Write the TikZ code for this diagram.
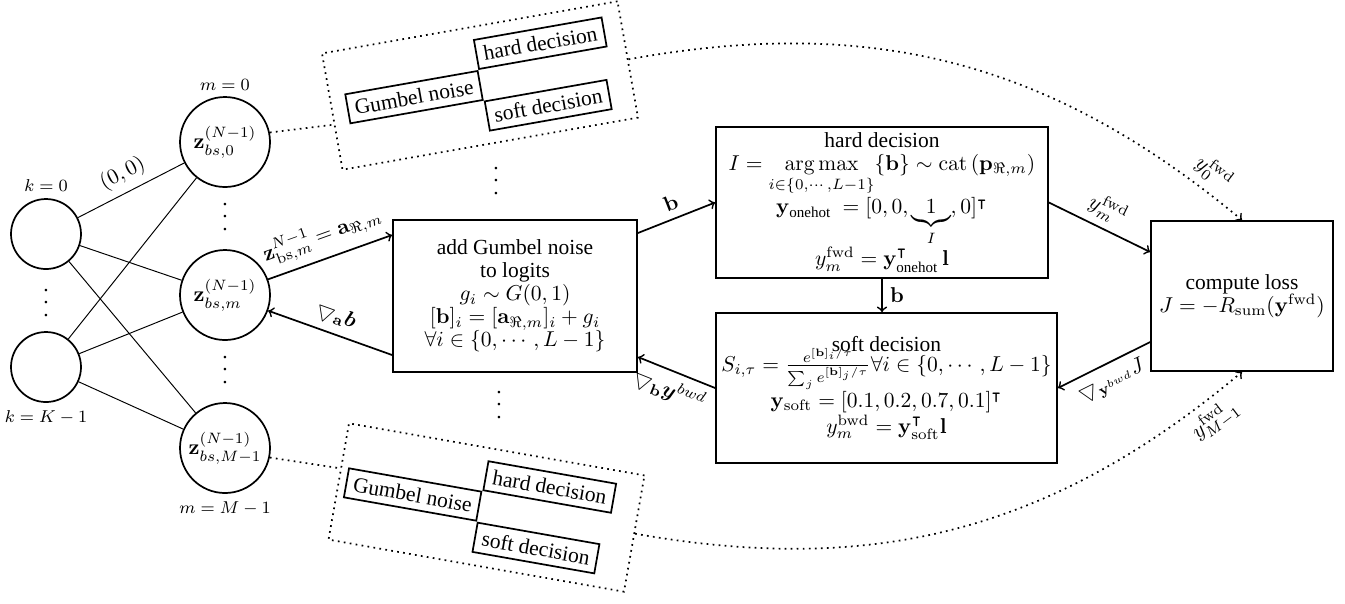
\documentclass[tikz,border=0pt]{standalone}
\usepackage{amsmath,amssymb}
\usepackage[no-math]{fontspec}
\setmainfont{Liberation Serif}
\usetikzlibrary{calc}
\newcommand{\myvdots}{\vbox{\baselineskip6pt\lineskiplimit0pt\hbox{.}\hbox{.}\hbox{.}}}
\begin{document}
\begin{tikzpicture}[x=0.465pt,y=-0.465pt,
  box/.style={draw, thick, align=center, font=\fontsize{10}{10.7}\selectfont, inner sep=0pt},
  circ/.style={draw, thick, circle, minimum size=41.85pt, inner sep=0pt},
  kcirc/.style={draw, thick, circle, minimum size=32.55pt, inner sep=0pt},
  arr/.style={thick, ->},
  link/.style={line width=0.45pt},
  dots/.style={thick, dotted},
  sbox/.style={draw, thick, transform shape},
  grpframe/.style={draw, thick, dotted, transform shape, minimum width=139.5pt, minimum height=54.9pt},
  lbl/.style={font=\footnotesize}]
\useasboundingbox (0,0) rectangle (1345,603);

% left circles
\node[kcirc] (k0) at (46,234) {};
\node[kcirc] (kK) at (46,367) {};
\node[lbl] (lk0) at (46,186) {$k=0$};
\node[lbl] (lkK) at (46,417) {$k=K-1$};
\node (dk) at (46,303) {\myvdots};

% m circles
\node[circ] (m0) at (225,142) {$\mathbf{z}_{bs,0}^{(N-1)}$};
\node[circ] (mm) at (225,295) {$\mathbf{z}_{bs,m}^{(N-1)}$};
\node[circ] (mM) at (225,448) {$\mathbf{z}_{bs,M-1}^{(N-1)}$};
\node[lbl] (lm0) at (225,85) {$m=0$};
\node[lbl] (lmM) at (225,508) {$m=M-1$};
\node (dm1) at (225,217) {\myvdots};
\node (dm2) at (225,370) {\myvdots};

% links
\draw[link] (k0) -- node[above, sloped, pos=0.5] {$(0,0)$} (m0);
\draw[link] (k0) -- (mm);
\draw[link] (k0) -- (mM);
\draw[link] (kK) -- (m0);
\draw[link] (kK) -- (mm);
\draw[link] (kK) -- (mM);

% main boxes
\node[box, minimum width=113.5pt, minimum height=70.7pt] (gum) at (515,296)
  {add Gumbel noise\\ to logits\\ $g_i\sim G(0,1)$\\ $[\mathbf{b}]_i=[\mathbf{a}_{\Re,m}]_i+g_i$\\ $\forall i\in\{0,\cdots,L-1\}$};
\node[box, minimum width=154.4pt, minimum height=70.2pt] (hard) at (882,202.5)
  {hard decision\\ $I=\mathop{\mathrm{arg\,max}}\limits_{i\in\{0,\cdots,L-1\}}\{\mathbf{b}\}\sim\mathrm{cat}\left(\mathbf{p}_{\Re,m}\right)$\\
   $\mathbf{y}_{\text{onehot}}\ =[0,0,\underbrace{\;\;1\;\;}_{I},0]^{\intercal}$\\ $y_m^{\mathrm{fwd}}=\mathbf{y}_{\text{onehot}}^{\intercal}\,\mathbf{l}$};
\node[box, minimum width=158.6pt, minimum height=69.8pt] (soft) at (886.5,388)
  {soft decision\\[-2.5pt] $S_{i,\tau}=\frac{e^{[\mathbf{b}]_i/\tau}}{\sum_j e^{[\mathbf{b}]_j/\tau}}\forall i\in\{0,\cdots,L-1\}$\\
   $\mathbf{y}_{\mathrm{soft}}=[0.1,0.2,0.7,0.1]^{\intercal}$\\ $y_m^{\mathrm{bwd}}=\mathbf{y}_{\mathrm{soft}}^{\intercal}\mathbf{l}$};
\node[box, minimum width=84.6pt, minimum height=69.8pt] (loss) at (1242,296)
  {compute loss\\ $J=-R_{\mathrm{sum}}(\mathbf{y}^{\mathrm{fwd}})$};

% arrows
\draw[arr] (mm.20) -- node[above, sloped] {$\mathbf{z}_{\mathrm{bs},m}^{N-1}=\mathbf{a}_{\Re,m}$} ($(gum.west)+(0,-61)$);
\draw[thick, <-] (mm.-20) -- node[above, sloped] {$\bigtriangledown_{\mathbf{a}}\boldsymbol{b}$} ($(gum.west)+(0,59)$);
\draw[arr] ($(gum.east)+(0,-63)$) -- node[above, sloped] {$\mathbf{b}$} (hard.west);
\draw[arr] (hard.south) -- node[right] {$\mathbf{b}$} (hard.south |- soft.north);
\draw[thick, <-] ($(gum.east)+(0,61)$) -- node[below, sloped] {$\bigtriangledown_{\mathbf{b}}\boldsymbol{y}^{bwd}$} (soft.west);
\draw[arr] (hard.east) -- node[above, sloped] {$y_m^{\mathrm{fwd}}$} ($(loss.west)+(0,-44)$);
\draw[thick, <-] (soft.east) -- node[below, sloped] {$\bigtriangledown_{\mathbf{y}^{bwd}}J$} ($(loss.west)+(0,46)$);

% top group
\begin{scope}[shift={(480,85.5)}, rotate=10]
\node[grpframe] (topgrp) at (0,0) {};
\node[sbox] (tgn) at (-67,0) {Gumbel noise};
\node[sbox, anchor=south west] (thd) at (tgn.north east) {hard decision};
\node[sbox, anchor=north west] (tsd) at (tgn.south east) {soft decision};
\end{scope}

% bottom group
\begin{scope}[shift={(486.5,507.5)}, rotate=-10]
\node[grpframe] (botgrp) at (0,0) {};
\node[sbox] (bgn) at (-75,0) {Gumbel noise};
\node[sbox, anchor=south west] (bhd) at (bgn.north east) {hard decision};
\node[sbox, anchor=north west] (bsd) at (bgn.south east) {soft decision};
\end{scope}

\node (dg1) at (496,181) {\myvdots};
\node (dg2) at (499,405) {\myvdots};

\draw[dots] (m0.12) -- (topgrp.185);
\draw[dots] (mM.-12) -- (botgrp.175);

\draw[dots, ->] (topgrp.east) to[bend left=25] node[pos=0.93, above, sloped] {$y_0^{\mathrm{fwd}}$} (loss.north);
\draw[dots, ->] (botgrp.east) to[bend right=25] node[pos=0.93, below, sloped] {$y_{M-1}^{\mathrm{fwd}}$} (loss.south);
\end{tikzpicture}
\end{document}
